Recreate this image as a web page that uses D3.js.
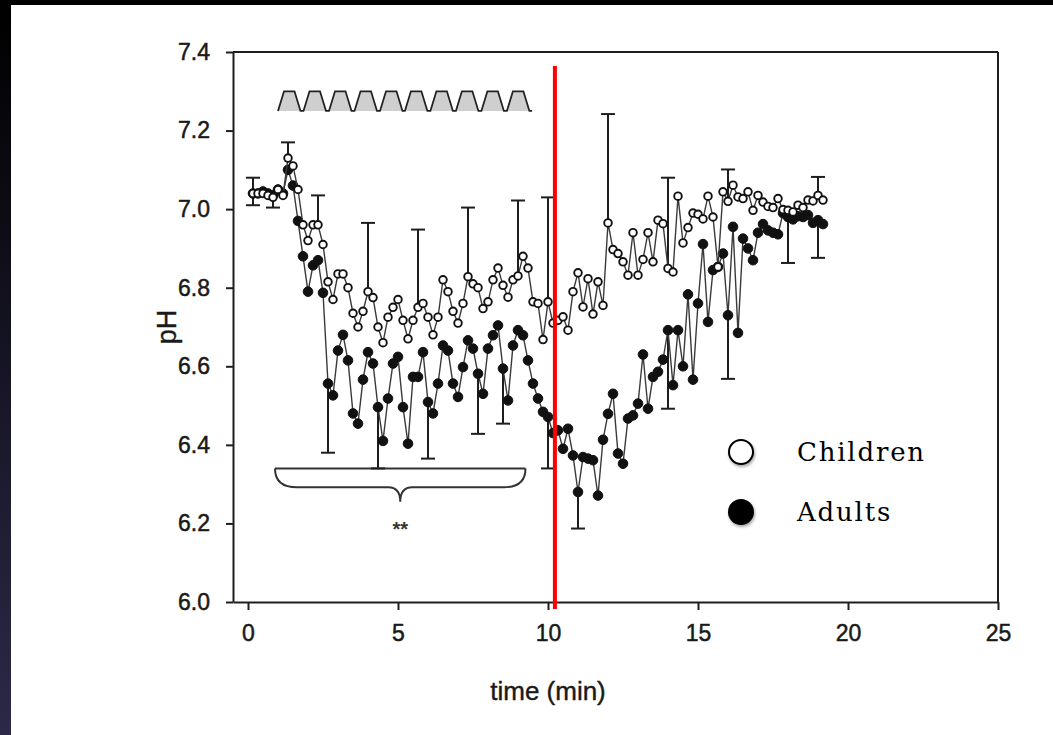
<!DOCTYPE html>
<html>
<head>
<meta charset="utf-8">
<script src="https://cdn.jsdelivr.net/npm/d3@7"></script>
<style>
  html, body { margin: 0; padding: 0; background: #000; }
  svg { display: block; }
</style>
</head>
<body>
<svg id="chart" width="1053" height="735"></svg>
<script>
// pH readings every 10 s (1/6 min), first sample at 10 s
const childrenPH = [7.04, 7.04, 7.04, 7.035, 7.03, 7.05, 7.035, 7.13, 7.11, 7.05,
  6.96, 6.92, 6.96, 6.96, 6.91, 6.815, 6.77, 6.835, 6.835, 6.80,
  6.735, 6.70, 6.74, 6.79, 6.775, 6.70, 6.66, 6.725, 6.75, 6.77,
  6.717, 6.67, 6.717, 6.75, 6.76, 6.725, 6.68, 6.725, 6.82, 6.79,
  6.74, 6.71, 6.76, 6.828, 6.81, 6.80, 6.747, 6.764, 6.82, 6.85,
  6.806, 6.776, 6.82, 6.83, 6.88, 6.85, 6.764, 6.76, 6.668, 6.764,
  6.71, 6.717, 6.726, 6.692, 6.79, 6.838, 6.751, 6.823, 6.733, 6.815,
  6.755, 6.965, 6.897, 6.887, 6.866, 6.832, 6.94, 6.832, 6.872, 6.94,
  6.866, 6.972, 6.963, 6.849, 6.84, 7.033, 6.914, 6.953, 6.99, 6.987,
  6.975, 7.033, 6.98, 6.853, 7.044, 7.02, 7.061, 7.031, 7.027, 7.044,
  6.997, 7.035, 7.018, 7.007, 7.004, 7.027, 6.999, 6.997, 6.993, 7.01,
  7.004, 7.023, 7.021, 7.035, 7.023]

const adultsPH = [7.04, 7.04, 7.045, 7.04, 7.035, 7.05, 7.04, 7.10, 7.06, 6.97,
  6.88, 6.79, 6.857, 6.87, 6.787, 6.556, 6.526, 6.64, 6.68, 6.615,
  6.48, 6.454, 6.566, 6.636, 6.607, 6.496, 6.41, 6.518, 6.607, 6.624,
  6.496, 6.403, 6.573, 6.573, 6.636, 6.509, 6.48, 6.556, 6.653, 6.64,
  6.556, 6.522, 6.598, 6.666, 6.645, 6.581, 6.53, 6.645, 6.679, 6.704,
  6.594, 6.513, 6.653, 6.692, 6.679, 6.615, 6.556, 6.518, 6.484, 6.471,
  6.43, 6.437, 6.39, 6.441, 6.373, 6.28, 6.369, 6.365, 6.361, 6.271,
  6.413, 6.479, 6.53, 6.378, 6.352, 6.467, 6.475, 6.505, 6.63, 6.492,
  6.573, 6.586, 6.617, 6.692, 6.552, 6.692, 6.60, 6.783, 6.566, 6.76,
  6.911, 6.713, 6.845, 6.853, 6.887, 6.73, 6.955, 6.685, 6.925, 6.90,
  6.87, 6.94, 6.962, 6.946, 6.94, 6.936, 6.99, 6.98, 6.974, 6.982,
  6.98, 6.985, 6.965, 6.972, 6.962]

const times = d3.range(1, childrenPH.length + 1).map(i => i / 6)

// error bars: sample number and whisker end (children up, adults down)
const childErrIdx = [1, 8, 14, 24, 34, 44, 54, 60, 72, 84, 96, 114]
const childErrEnd = [7.08, 7.17, 7.035, 6.965, 6.948, 7.004, 7.022, 7.03, 7.242, 7.08, 7.101, 7.082]
const adultErrIdx = [1, 5, 16, 26, 36, 46, 51, 60, 66, 84, 96, 108, 114]
const adultErrEnd = [7.01, 7.004, 6.38, 6.34, 6.365, 6.428, 6.454, 6.34, 6.187, 6.492, 6.568, 6.863, 6.876]

const xTicks = [0, 5, 10, 15, 20, 25]
const yTicks = [6.0, 6.2, 6.4, 6.6, 6.8, 7.0, 7.2, 7.4]

// stimulus pulses (min)
const pulseStarts = [1.0, 1.85, 2.70, 3.55, 4.40, 5.23, 6.08, 6.93, 7.78, 8.63]
const pulseLevels = [7.25, 7.30]
const stimEnd = 9.47

const markerTime = 10.23
const braceRange = [0.9, 9.25]
const legendItems = ['Children', 'Adults']

const svg = d3.select('#chart')

// backdrop
const defs = svg.append('defs')
const grad = defs.append('linearGradient').attr('id', 'edge').attr('x1', 0).attr('y1', 0).attr('x2', 0).attr('y2', 1)
grad.append('stop').attr('offset', '0%').attr('stop-color', '#000')
grad.append('stop').attr('offset', '100%').attr('stop-color', '#2c2948')
const shadow = defs.append('filter').attr('id', 'shadow').attr('x', '-50%').attr('y', '-50%').attr('width', '200%').attr('height', '200%')
shadow.append('feDropShadow').attr('dx', 1).attr('dy', 2).attr('stdDeviation', 1.5).attr('flood-opacity', 0.35)

svg.append('rect').attr('width', 1053).attr('height', 735).attr('fill', '#000')
svg.append('rect').attr('x', 0).attr('y', 0).attr('width', 11).attr('height', 735).attr('fill', 'url(#edge)')
svg.append('rect').attr('x', 11).attr('y', 5).attr('width', 1042).attr('height', 730).attr('fill', '#fff')

const xScale = d3.scaleLinear().domain([-0.5, 25]).range([233, 998])
const yScale = d3.scaleLinear().domain([6.0, 7.4]).range([602, 52])

const ink = '#1e1e1e'
const fontSans = "'Liberation Sans', Arial, sans-serif"

// frame
svg.append('line').attr('x1', xScale(-0.5)).attr('x2', xScale(25)).attr('y1', yScale(7.4)).attr('y2', yScale(7.4))
  .attr('stroke', ink).attr('stroke-width', 2)
svg.append('line').attr('x1', xScale(25)).attr('x2', xScale(25)).attr('y1', yScale(7.4)).attr('y2', yScale(6.0))
  .attr('stroke', ink).attr('stroke-width', 2)

var y_axis = d3.axisLeft(yScale).tickValues(yTicks).tickFormat(d3.format('.1f'))
  .tickSize(7).tickSizeOuter(0).tickPadding(16)
const gy = svg.append('g').attr('transform', 'translate(' + xScale(-0.5) + ',0)').call(y_axis)

var x_axis = d3.axisBottom(xScale).tickValues(xTicks).tickSize(8).tickSizeOuter(0).tickPadding(15)
const gx = svg.append('g').attr('transform', 'translate(0,' + yScale(6.0) + ')').call(x_axis)

;[gx, gy].forEach(g => {
  g.selectAll('path, line').attr('stroke', ink).attr('stroke-width', 2)
  g.selectAll('text').attr('fill', '#1a1a1a').attr('stroke', '#1a1a1a').attr('stroke-width', 0.5)
    .style('font-family', fontSans).style('font-size', '23px')
})

svg.append('text').attr('transform', 'translate(176,' + yScale(6.7) + ') rotate(-90)')
  .attr('text-anchor', 'middle').style('font-family', fontSans).style('font-size', '27px')
  .attr('fill', '#1a1a1a').attr('stroke', '#1a1a1a').attr('stroke-width', 0.4)
  .text('pH')
svg.append('text').attr('x', xScale(10)).attr('y', 700)
  .attr('text-anchor', 'middle').style('font-family', fontSans).style('font-size', '26px')
  .attr('fill', '#1a1a1a').attr('stroke', '#1a1a1a').attr('stroke-width', 0.4)
  .text('time (min)')

// stimulus wave
const wavePts = [[pulseStarts[0], pulseLevels[0]]]
pulseStarts.forEach(s => {
  wavePts.push([s, pulseLevels[0]], [s + 0.2, pulseLevels[1]], [s + 0.55, pulseLevels[1]], [s + 0.75, pulseLevels[0]])
})
wavePts.push([stimEnd, pulseLevels[0]])
const waveLine = d3.line().x(d => xScale(d[0])).y(d => yScale(d[1]))
svg.append('path').attr('d', waveLine(wavePts) + 'Z').attr('fill', '#cfcfcf').attr('stroke', 'none')
svg.append('path').attr('d', waveLine(wavePts)).attr('fill', 'none').attr('stroke', '#222').attr('stroke-width', 1.8)

// brace
const bx0 = xScale(braceRange[0]), bx1 = xScale(braceRange[1]), bm = xScale((braceRange[0] + braceRange[1]) / 2)
const bTop = yScale(6.34), bMid = yScale(6.292), bTip = yScale(6.255)
svg.append('path')
  .attr('d', 'M' + bx0 + ',' + bTop + ' L' + bx1 + ',' + bTop +
    ' M' + bx0 + ',' + bTop + ' Q' + bx0 + ',' + bMid + ' ' + (bx0 + 22) + ',' + bMid +
    ' L' + (bm - 12) + ',' + bMid + ' Q' + bm + ',' + bMid + ' ' + bm + ',' + bTip +
    ' Q' + bm + ',' + bMid + ' ' + (bm + 12) + ',' + bMid +
    ' L' + (bx1 - 22) + ',' + bMid + ' Q' + bx1 + ',' + bMid + ' ' + bx1 + ',' + bTop)
  .attr('fill', 'none').attr('stroke', '#333').attr('stroke-width', 2)
svg.append('text').attr('x', bm).attr('y', 536).attr('text-anchor', 'middle')
  .style('font-family', fontSans).style('font-size', '20px').style('font-weight', 'bold')
  .attr('fill', '#333').text('**')

// error bars
function errorBars (idx, ends, series) {
  idx.forEach((k, j) => {
    const cx = xScale(times[k - 1])
    svg.append('line').attr('x1', cx).attr('x2', cx)
      .attr('y1', yScale(series[k - 1])).attr('y2', yScale(ends[j]))
      .attr('stroke', ink).attr('stroke-width', 2)
    svg.append('line').attr('x1', cx - 7).attr('x2', cx + 7)
      .attr('y1', yScale(ends[j])).attr('y2', yScale(ends[j]))
      .attr('stroke', ink).attr('stroke-width', 2)
  })
}
errorBars(childErrIdx, childErrEnd, childrenPH)
errorBars(adultErrIdx, adultErrEnd, adultsPH)

// series
const line = d3.line().x((d, i) => xScale(times[i])).y(d => yScale(d))
svg.append('path').datum(adultsPH).attr('d', line).attr('fill', 'none').attr('stroke', '#3a3a3a').attr('stroke-width', 1.4)
svg.append('g').selectAll('circle').data(adultsPH).join('circle')
  .attr('cx', (d, i) => xScale(times[i])).attr('cy', d => yScale(d)).attr('r', 4.8)
  .attr('fill', '#111').attr('stroke', '#111').attr('stroke-width', 1)

svg.append('path').datum(childrenPH).attr('d', line).attr('fill', 'none').attr('stroke', '#3a3a3a').attr('stroke-width', 1.4)
svg.append('g').selectAll('circle').data(childrenPH).join('circle')
  .attr('cx', (d, i) => xScale(times[i])).attr('cy', d => yScale(d)).attr('r', 3.8)
  .attr('fill', '#fff').attr('stroke', '#111').attr('stroke-width', 1.9)

// red marker
svg.append('line').attr('x1', xScale(markerTime)).attr('x2', xScale(markerTime))
  .attr('y1', 66).attr('y2', 609).attr('stroke', '#f00').attr('stroke-width', 4)

// legend
const legend = svg.append('g')
legendItems.forEach((name, j) => {
  const cy = 452 + j * 60
  legend.append('circle').attr('cx', 741).attr('cy', cy).attr('r', 12)
    .attr('fill', j === 0 ? '#fff' : '#000').attr('stroke', '#000').attr('stroke-width', 2)
    .attr('filter', 'url(#shadow)')
  legend.append('text').attr('x', 797).attr('y', cy + 9)
    .style('font-family', "'DejaVu Serif', serif").style('font-size', '26px')
    .style('letter-spacing', '1.8px').attr('fill', '#000').text(name)
})
</script>
</body>
</html>
